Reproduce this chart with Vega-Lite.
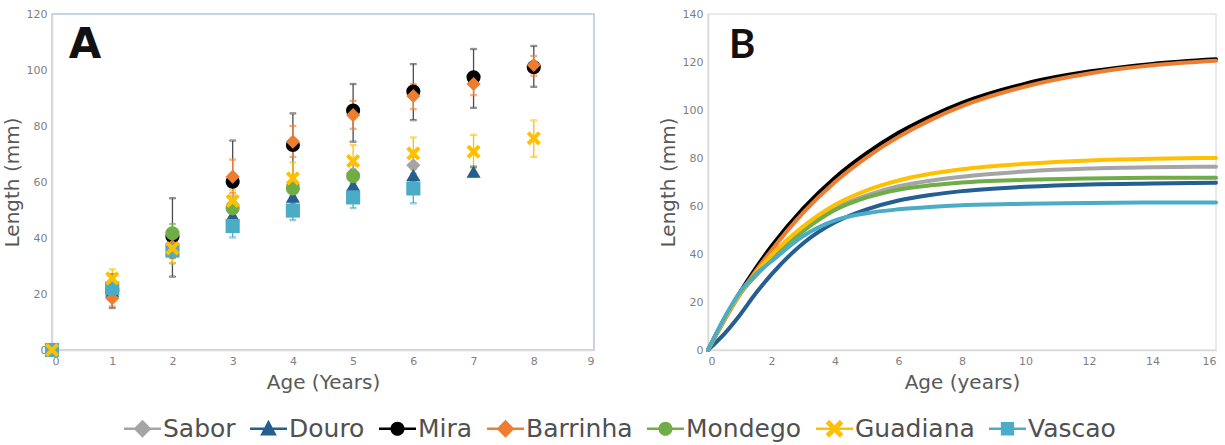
{
  "$schema": "https://vega.github.io/schema/vega-lite/v6.json",
  "background": "white",
  "padding": {"left": 1, "top": 7, "right": 5, "bottom": 5},
  "spacing": 62,
  "resolve": {"scale": {"stroke": "independent"}, "legend": {"stroke": "independent"}},
  "datasets": {
    "pts": [
      {"species": "Sabor", "age": 0, "len": 0},
      {"species": "Sabor", "age": 1, "len": 22, "lo": 19.5, "hi": 24.5},
      {"species": "Sabor", "age": 2, "len": 38, "lo": 34, "hi": 42},
      {"species": "Sabor", "age": 3, "len": 52, "lo": 49, "hi": 55},
      {"species": "Sabor", "age": 4, "len": 59, "lo": 56, "hi": 62},
      {"species": "Sabor", "age": 5, "len": 63, "lo": 60, "hi": 66},
      {"species": "Sabor", "age": 6, "len": 66, "lo": 63, "hi": 69},
      {"species": "Douro", "age": 0, "len": 0},
      {"species": "Douro", "age": 1, "len": 21, "lo": 18.5, "hi": 23.5},
      {"species": "Douro", "age": 2, "len": 36, "lo": 33, "hi": 39},
      {"species": "Douro", "age": 3, "len": 48.2, "lo": 45.5, "hi": 51},
      {"species": "Douro", "age": 4, "len": 54.8, "lo": 52, "hi": 57.5},
      {"species": "Douro", "age": 5, "len": 58.9, "lo": 56.5, "hi": 61.5},
      {"species": "Douro", "age": 6, "len": 62.5, "lo": 60, "hi": 65},
      {"species": "Douro", "age": 7, "len": 63.7, "lo": 62, "hi": 65.5},
      {"species": "Mira", "age": 0, "len": 0},
      {"species": "Mira", "age": 1, "len": 21, "lo": 15, "hi": 27},
      {"species": "Mira", "age": 2, "len": 40.5, "lo": 26.2, "hi": 54.2},
      {"species": "Mira", "age": 3, "len": 60.1, "lo": 45.4, "hi": 74.8},
      {"species": "Mira", "age": 4, "len": 73.2, "lo": 62, "hi": 84.5},
      {"species": "Mira", "age": 5, "len": 85.5, "lo": 74.4, "hi": 95},
      {"species": "Mira", "age": 6, "len": 92.3, "lo": 82.1, "hi": 102.1},
      {"species": "Mira", "age": 7, "len": 97.4, "lo": 86.5, "hi": 107.5},
      {"species": "Mira", "age": 8, "len": 101, "lo": 94, "hi": 108.6},
      {"species": "Barrinha", "age": 0, "len": 0},
      {"species": "Barrinha", "age": 1, "len": 18.5, "lo": 15.5, "hi": 21.5},
      {"species": "Barrinha", "age": 2, "len": 37, "lo": 33, "hi": 41},
      {"species": "Barrinha", "age": 3, "len": 61.9, "lo": 56, "hi": 68},
      {"species": "Barrinha", "age": 4, "len": 74.4, "lo": 69, "hi": 80},
      {"species": "Barrinha", "age": 5, "len": 83.9, "lo": 79, "hi": 89},
      {"species": "Barrinha", "age": 6, "len": 90.7, "lo": 86, "hi": 95},
      {"species": "Barrinha", "age": 7, "len": 95, "lo": 91, "hi": 99},
      {"species": "Barrinha", "age": 8, "len": 101.8, "lo": 98, "hi": 105},
      {"species": "Mondego", "age": 0, "len": 0},
      {"species": "Mondego", "age": 1, "len": 22, "lo": 20, "hi": 24},
      {"species": "Mondego", "age": 2, "len": 41.7, "lo": 38, "hi": 45},
      {"species": "Mondego", "age": 3, "len": 50.6, "lo": 48, "hi": 53},
      {"species": "Mondego", "age": 4, "len": 57.7, "lo": 55, "hi": 60.5},
      {"species": "Mondego", "age": 5, "len": 62.1, "lo": 59.5, "hi": 64.5},
      {"species": "Vascao", "age": 0, "len": 0},
      {"species": "Vascao", "age": 1, "len": 22, "lo": 19, "hi": 25},
      {"species": "Vascao", "age": 2, "len": 35.5, "lo": 31, "hi": 39},
      {"species": "Vascao", "age": 3, "len": 44.3, "lo": 40.2, "hi": 48},
      {"species": "Vascao", "age": 4, "len": 49.8, "lo": 46.4, "hi": 53},
      {"species": "Vascao", "age": 5, "len": 54.5, "lo": 50.7, "hi": 58},
      {"species": "Vascao", "age": 6, "len": 57.7, "lo": 52.4, "hi": 62},
      {"species": "Guadiana", "age": 0, "len": 0},
      {"species": "Guadiana", "age": 1, "len": 25.6, "lo": 22, "hi": 28.8},
      {"species": "Guadiana", "age": 2, "len": 36.3, "lo": 31, "hi": 42},
      {"species": "Guadiana", "age": 3, "len": 53.2, "lo": 48, "hi": 57},
      {"species": "Guadiana", "age": 4, "len": 61.3, "lo": 56, "hi": 67},
      {"species": "Guadiana", "age": 5, "len": 67.5, "lo": 62, "hi": 73.2},
      {"species": "Guadiana", "age": 6, "len": 70.2, "lo": 64.5, "hi": 75.9},
      {"species": "Guadiana", "age": 7, "len": 70.8, "lo": 65, "hi": 76.8},
      {"species": "Guadiana", "age": 8, "len": 75.6, "lo": 69, "hi": 82}
    ],
    "curves": [
      {"species": "Sabor", "t": 0, "len": 0}, {"species": "Sabor", "t": 0.5, "len": 12.3}, {"species": "Sabor", "t": 1, "len": 23.3}, {"species": "Sabor", "t": 1.5, "len": 31}, {"species": "Sabor", "t": 2, "len": 37.8}, {"species": "Sabor", "t": 3, "len": 50}, {"species": "Sabor", "t": 4, "len": 59}, {"species": "Sabor", "t": 5, "len": 64.4}, {"species": "Sabor", "t": 6, "len": 68.2}, {"species": "Sabor", "t": 7, "len": 70.5}, {"species": "Sabor", "t": 8, "len": 72.2}, {"species": "Sabor", "t": 10, "len": 74.4}, {"species": "Sabor", "t": 12, "len": 75.6}, {"species": "Sabor", "t": 14, "len": 76.1}, {"species": "Sabor", "t": 16, "len": 76.4},
      {"species": "Douro", "t": 0, "len": 0}, {"species": "Douro", "t": 0.5, "len": 6.5}, {"species": "Douro", "t": 1, "len": 14.5}, {"species": "Douro", "t": 1.5, "len": 23.5}, {"species": "Douro", "t": 2, "len": 31.5}, {"species": "Douro", "t": 3, "len": 44.5}, {"species": "Douro", "t": 4, "len": 53.2}, {"species": "Douro", "t": 5, "len": 58.6}, {"species": "Douro", "t": 6, "len": 62.3}, {"species": "Douro", "t": 7, "len": 64.6}, {"species": "Douro", "t": 8, "len": 66.2}, {"species": "Douro", "t": 10, "len": 68}, {"species": "Douro", "t": 12, "len": 69}, {"species": "Douro", "t": 14, "len": 69.4}, {"species": "Douro", "t": 16, "len": 69.7},
      {"species": "Mira", "t": 0, "len": 0}, {"species": "Mira", "t": 0.5, "len": 12.6}, {"species": "Mira", "t": 1, "len": 23.8}, {"species": "Mira", "t": 1.5, "len": 34}, {"species": "Mira", "t": 2, "len": 43.2}, {"species": "Mira", "t": 3, "len": 59}, {"species": "Mira", "t": 4, "len": 71.8}, {"species": "Mira", "t": 5, "len": 82}, {"species": "Mira", "t": 6, "len": 90.5}, {"species": "Mira", "t": 7, "len": 97.3}, {"species": "Mira", "t": 8, "len": 103}, {"species": "Mira", "t": 10, "len": 111}, {"species": "Mira", "t": 12, "len": 116}, {"species": "Mira", "t": 14, "len": 119.2}, {"species": "Mira", "t": 16, "len": 121.1},
      {"species": "Barrinha", "t": 0, "len": 0}, {"species": "Barrinha", "t": 0.5, "len": 12}, {"species": "Barrinha", "t": 1, "len": 23}, {"species": "Barrinha", "t": 1.5, "len": 32.8}, {"species": "Barrinha", "t": 2, "len": 41.5}, {"species": "Barrinha", "t": 3, "len": 57.2}, {"species": "Barrinha", "t": 4, "len": 70}, {"species": "Barrinha", "t": 5, "len": 80.3}, {"species": "Barrinha", "t": 6, "len": 88.8}, {"species": "Barrinha", "t": 7, "len": 95.8}, {"species": "Barrinha", "t": 8, "len": 101.6}, {"species": "Barrinha", "t": 10, "len": 109.8}, {"species": "Barrinha", "t": 12, "len": 115.2}, {"species": "Barrinha", "t": 14, "len": 118.6}, {"species": "Barrinha", "t": 16, "len": 120.5},
      {"species": "Mondego", "t": 0, "len": 0}, {"species": "Mondego", "t": 0.5, "len": 12.3}, {"species": "Mondego", "t": 1, "len": 23.3}, {"species": "Mondego", "t": 1.5, "len": 31}, {"species": "Mondego", "t": 2, "len": 37.5}, {"species": "Mondego", "t": 3, "len": 49.5}, {"species": "Mondego", "t": 4, "len": 58.3}, {"species": "Mondego", "t": 5, "len": 63.6}, {"species": "Mondego", "t": 6, "len": 66.8}, {"species": "Mondego", "t": 7, "len": 68.6}, {"species": "Mondego", "t": 8, "len": 69.8}, {"species": "Mondego", "t": 10, "len": 70.9}, {"species": "Mondego", "t": 12, "len": 71.5}, {"species": "Mondego", "t": 14, "len": 71.8}, {"species": "Mondego", "t": 16, "len": 71.8},
      {"species": "Guadiana", "t": 0, "len": 0}, {"species": "Guadiana", "t": 0.5, "len": 12.5}, {"species": "Guadiana", "t": 1, "len": 23.5}, {"species": "Guadiana", "t": 1.5, "len": 32}, {"species": "Guadiana", "t": 2, "len": 39.6}, {"species": "Guadiana", "t": 3, "len": 51.5}, {"species": "Guadiana", "t": 4, "len": 60.5}, {"species": "Guadiana", "t": 5, "len": 66.5}, {"species": "Guadiana", "t": 6, "len": 70.6}, {"species": "Guadiana", "t": 7, "len": 73.4}, {"species": "Guadiana", "t": 8, "len": 75.3}, {"species": "Guadiana", "t": 10, "len": 77.6}, {"species": "Guadiana", "t": 12, "len": 79}, {"species": "Guadiana", "t": 14, "len": 79.7}, {"species": "Guadiana", "t": 16, "len": 80},
      {"species": "Vascao", "t": 0, "len": 0}, {"species": "Vascao", "t": 0.5, "len": 13}, {"species": "Vascao", "t": 1, "len": 24}, {"species": "Vascao", "t": 1.5, "len": 31.5}, {"species": "Vascao", "t": 2, "len": 37}, {"species": "Vascao", "t": 3, "len": 47.5}, {"species": "Vascao", "t": 4, "len": 54}, {"species": "Vascao", "t": 5, "len": 57}, {"species": "Vascao", "t": 6, "len": 58.6}, {"species": "Vascao", "t": 7, "len": 59.6}, {"species": "Vascao", "t": 8, "len": 60.3}, {"species": "Vascao", "t": 10, "len": 60.9}, {"species": "Vascao", "t": 12, "len": 61.3}, {"species": "Vascao", "t": 14, "len": 61.5}, {"species": "Vascao", "t": 16, "len": 61.5}
    ]
  },
  "config": {
    "font": "DejaVu Sans",
    "axis": {
      "grid": false,
      "ticks": false,
      "domainColor": "#D9D9D9",
      "domainWidth": 1.5,
      "labelColor": "#7F7F7F",
      "labelFontSize": 11,
      "labelFont": "DejaVu Sans",
      "labelPadding": 5,
      "titleColor": "#595959",
      "titleFontSize": 20,
      "titleFontWeight": "normal",
      "titleFont": "DejaVu Sans"
    }
  },
  "hconcat": [
    {
      "width": 542,
      "height": 336,
      "view": {"stroke": "#B4C6DB", "strokeWidth": 1.5},
      "data": {"name": "pts"},
      "layer": [
        {
          "transform": [{"filter": "datum.lo != null"}],
          "mark": {"type": "rule", "strokeWidth": 1.3},
          "encoding": {
            "x": {"field": "age", "type": "quantitative", "scale": {"domain": [0, 9], "nice": false}, "axis": {"values": [0,1,2,3,4,5,6,7,8,9], "format": "d", "title": "Age (Years)", "titlePadding": 6}},
            "y": {"field": "lo", "type": "quantitative", "scale": {"domain": [0, 120], "nice": false}, "axis": {"values": [0,20,40,60,80,100,120], "title": "Length (mm)", "titlePadding": 4}},
            "y2": {"field": "hi"},
            "stroke": {"field": "species", "type": "nominal", "scale": {"domain": ["Douro","Sabor","Mira","Barrinha","Mondego","Guadiana","Vascao"], "range": ["#255E91","#A5A5A5","#4D4D4D","#ED7D31","#70AD47","#FFC000","#4BACC6"]}, "legend": null}
          }
        },
        {
          "transform": [{"filter": "datum.lo != null"}],
          "mark": {"type": "tick", "orient": "horizontal", "size": 6, "thickness": 1.3, "filled": false},
          "encoding": {
            "x": {"field": "age", "type": "quantitative"},
            "y": {"field": "lo", "type": "quantitative"},
            "stroke": {"field": "species", "type": "nominal", "legend": null}
          }
        },
        {
          "transform": [{"filter": "datum.lo != null"}],
          "mark": {"type": "tick", "orient": "horizontal", "size": 6, "thickness": 1.3, "filled": false},
          "encoding": {
            "x": {"field": "age", "type": "quantitative"},
            "y": {"field": "hi", "type": "quantitative"},
            "stroke": {"field": "species", "type": "nominal", "legend": null}
          }
        },
        {
          "mark": {"type": "point", "filled": true, "opacity": 1, "size": 200},
          "encoding": {
            "x": {"field": "age", "type": "quantitative"},
            "y": {"field": "len", "type": "quantitative"},
            "shape": {"field": "species", "type": "nominal", "scale": {"domain": ["Vascao","Guadiana","Mondego","Barrinha","Mira","Douro","Sabor"], "range": ["square","M-1,-0.6L-0.6,-1L0,-0.4L0.6,-1L1,-0.6L0.4,0L1,0.6L0.6,1L0,0.4L-0.6,1L-1,0.6L-0.4,0Z","circle","diamond","circle","triangle-up","diamond"]}, "legend": null},
            "color": {
              "field": "species", "type": "nominal",
              "scale": {"domain": ["Sabor","Douro","Mira","Barrinha","Mondego","Guadiana","Vascao"], "range": ["#A5A5A5","#255E91","#000000","#ED7D31","#70AD47","#FFC000","#4BACC6"]},
              "legend": {
                "title": null,
                "orient": "none",
                "legendX": 72,
                "legendY": 396,
                "direction": "horizontal",
                "columns": 7,
                "symbolSize": 1369,
                "symbolStrokeWidth": 0,
                "symbolOpacity": 1,
                "labelFontSize": 25,
                "labelFont": "DejaVu Sans",
                "labelColor": "#505050",
                "labelOffset": 2,
                "columnPadding": 14,
                "labelLimit": 300,
                "encode": {
                  "symbols": {
                    "update": {
                      "shape": {"signal": "datum.value === 'Sabor' || datum.value === 'Barrinha' ? 'M-1,-0.07H1V0.07H-1Z M0,-0.48L0.48,0L0,0.48L-0.48,0Z' : datum.value === 'Douro' ? 'M-1,-0.07H1V0.07H-1Z M0,-0.48L0.45,0.36L-0.45,0.36Z' : datum.value === 'Mira' || datum.value === 'Mondego' ? 'M-1,-0.07H1V0.07H-1Z M-0.38,0A0.38,0.38,0,1,1,0.38,0A0.38,0.38,0,1,1,-0.38,0Z' : datum.value === 'Guadiana' ? 'M-1,-0.07H1V0.07H-1Z M-0.48,-0.29L-0.29,-0.48L0,-0.19L0.29,-0.48L0.48,-0.29L0.19,0L0.48,0.29L0.29,0.48L0,0.19L-0.29,0.48L-0.48,0.29L-0.19,0Z' : 'M-1,-0.07H1V0.07H-1Z M-0.36,-0.36H0.36V0.36H-0.36Z'"}
                    }
                  }
                }
              }
            }
          }
        },
        {
          "data": {"values": [{}]},
          "mark": {"type": "text", "text": "A", "fontSize": 42, "fontWeight": "bold", "font": "DejaVu Sans", "align": "left", "baseline": "alphabetic", "color": "#111111"},
          "encoding": {"x": {"datum": 0.28, "type": "quantitative"}, "y": {"datum": 104.3, "type": "quantitative"}}
        }
      ]
    },
    {
      "width": 508,
      "height": 336,
      "view": {"stroke": "#E3E3E3", "strokeWidth": 1.5},
      "layer": [
        {
          "data": {"name": "curves"},
          "mark": {"type": "line", "strokeWidth": 4, "interpolate": "monotone", "strokeCap": "round"},
          "encoding": {
            "x": {"field": "t", "type": "quantitative", "scale": {"domain": [0, 16], "nice": false}, "axis": {"values": [0,2,4,6,8,10,12,14,16], "title": "Age (years)", "titlePadding": 6}},
            "y": {"field": "len", "type": "quantitative", "scale": {"domain": [0, 140], "nice": false}, "axis": {"values": [0,20,40,60,80,100,120,140], "title": "Length (mm)", "titlePadding": 4}},
            "stroke": {"field": "species", "type": "nominal", "scale": {"domain": ["Sabor","Douro","Mira","Barrinha","Mondego","Guadiana","Vascao"], "range": ["#A5A5A5","#255E91","#000000","#ED7D31","#70AD47","#FFC000","#4BACC6"]}, "legend": null},
            "order": {"field": "t", "type": "quantitative"}
          }
        },
        {
          "data": {"values": [{}]},
          "mark": {"type": "text", "text": "B", "fontSize": 40, "fontWeight": "bold", "font": "Lato", "align": "left", "baseline": "alphabetic", "color": "#111111"},
          "encoding": {"x": {"datum": 0.66, "type": "quantitative"}, "y": {"datum": 121.7, "type": "quantitative"}}
        }
      ]
    }
  ]
}
